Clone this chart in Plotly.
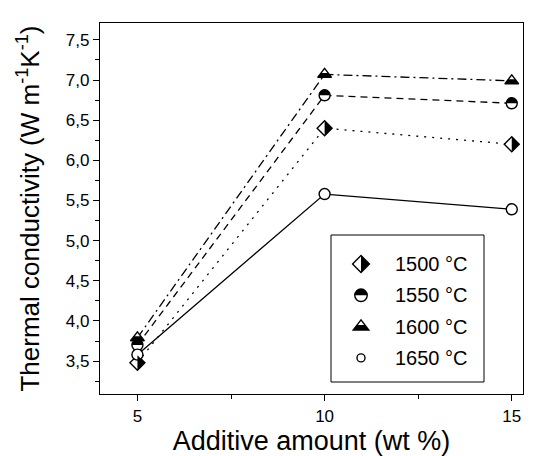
import plotly.graph_objects as go

additive = [5, 10, 15]
temps = ["1500 °C", "1550 °C", "1600 °C", "1650 °C"]
k_1500 = [3.48, 6.40, 6.20]
k_1550 = [3.70, 6.81, 6.71]
k_1600 = [3.79, 7.07, 6.99]
k_1650 = [3.58, 5.58, 5.39]
series = [k_1500, k_1550, k_1600, k_1650]

dashes = ["2px,6px", "7px,5px", "9px,4px,2px,4px", "solid"]
symbols = ["diamond", "circle", "triangle-up", "circle"]
sizes = [11.5, 11, 12, 11]
halves = ["right", "top", "bottom", None]

# plot geometry (pixels)
W, H = 541, 456
ML, MR, MT, MB = 92, 26, 15, 70
PW, PH = W - ML - MR, H - MT - MB


def px2paper(px, py):
    return (px - ML) / PW, (H - MB - py) / PH


K = 0.5523


def outline_path(sym, s):
    r = s / 2
    if sym == "diamond":
        d = 1.3 * r
        return f"M{d},0 L0,{d} L{-d},0 L0,{-d} Z"
    if sym == "triangle-up":
        rt = r * 2 / 3 ** 0.5
        return f"M{-rt},{-r/2} L{rt},{-r/2} L0,{r} Z"
    return (f"M{-r},0 C{-r},{K*r} {-K*r},{r} 0,{r} C{K*r},{r} {r},{K*r} {r},0 "
            f"C{r},{-K*r} {K*r},{-r} 0,{-r} C{-K*r},{-r} {-r},{-K*r} {-r},0 Z")


def half_path(sym, s):
    r = s / 2
    if sym == "diamond":
        d = 1.3 * r
        return f"M0,{d} L{d},0 L0,{-d} Z"
    if sym == "triangle-up":
        rt = r * 2 / 3 ** 0.5
        return f"M{-rt},{-r/2} L{rt},{-r/2} L{rt/2},{r/4} L{-rt/2},{r/4} Z"
    return f"M{-r},0 C{-r},{K*r} {-K*r},{r} 0,{r} C{K*r},{r} {r},{K*r} {r},0 Z"


fig = go.Figure()
for i, ys in enumerate(series):
    fig.add_trace(go.Scatter(x=additive, y=ys, mode="lines", showlegend=False,
                             line=dict(color="black", width=1.3, dash=dashes[i])))
for i, ys in enumerate(series):
    fig.add_trace(go.Scatter(x=additive, y=ys, mode="markers", name=temps[i],
                             showlegend=False,
                             marker=dict(symbol=symbols[i], size=sizes[i], color="white",
                                         line=dict(color="black", width=1.4))))

shapes = []
for i, ys in enumerate(series):
    if halves[i] is None:
        continue
    for xv, yv in zip(additive, ys):
        shapes.append(dict(type="path", xref="x", yref="y", xsizemode="pixel",
                           ysizemode="pixel", xanchor=xv, yanchor=yv,
                           path=half_path(symbols[i], sizes[i]),
                           fillcolor="black", line=dict(width=0), layer="above"))

# legend box
bx0, by0 = px2paper(323, 374)
bx1, by1 = px2paper(476, 227)
shapes.append(dict(type="rect", xref="paper", yref="paper", x0=bx0, y0=by0, x1=bx1, y1=by1,
                   line=dict(color="black", width=1), fillcolor="white", layer="above"))
leg_sizes = [13, 12.5, 13.5, 8]
annotations = []
for i, name in enumerate(temps):
    cy = 256 + 31.3 * i
    sx, sy = px2paper(353, cy)
    shapes.append(dict(type="path", xref="paper", yref="paper", xsizemode="pixel",
                       ysizemode="pixel", xanchor=sx, yanchor=sy,
                       path=outline_path(symbols[i], leg_sizes[i]),
                       fillcolor="white", line=dict(color="black", width=1.4), layer="above"))
    if halves[i] is not None:
        shapes.append(dict(type="path", xref="paper", yref="paper", xsizemode="pixel",
                           ysizemode="pixel", xanchor=sx, yanchor=sy,
                           path=half_path(symbols[i], leg_sizes[i]),
                           fillcolor="black", line=dict(width=0), layer="above"))
    tx, ty = px2paper(385, cy)
    annotations.append(dict(xref="paper", yref="paper", x=tx, y=ty, xanchor="left",
                            yanchor="middle", text=name, showarrow=False,
                            font=dict(size=20, color="black")))

fig.update_layout(
    width=W, height=H,
    margin=dict(l=ML, r=MR, t=MT, b=MB),
    paper_bgcolor="white", plot_bgcolor="white",
    separators=",.",
    font=dict(family="Liberation Sans, Arial, sans-serif", color="black", size=17),
    showlegend=False,
    shapes=shapes,
    annotations=annotations,
)
fig.update_xaxes(range=[4.0, 15.3], tickvals=[5, 10, 15], ticks="outside", ticklen=6,
                 tickcolor="black", tickwidth=1.2, automargin=False,
                 showline=True, linecolor="black", linewidth=1.4, mirror=True,
                 showgrid=False, zeroline=False,
                 minor=dict(dtick=2.5, tick0=5, ticks="outside", ticklen=3.5, tickcolor="black"),
                 title=dict(text="Additive amount (wt %)", font=dict(size=27), standoff=1),
                 tickfont=dict(size=17))
fig.update_yaxes(range=[3.09, 7.71], dtick=0.5, tick0=3.5, tickformat=".1f",
                 ticks="outside", ticklen=6, tickcolor="black", tickwidth=1.2,
                 automargin=False,
                 showline=True, linecolor="black", linewidth=1.4, mirror=True,
                 showgrid=False, zeroline=False,
                 minor=dict(dtick=0.25, tick0=3.5, ticks="outside", ticklen=3.5, tickcolor="black"),
                 title=dict(text="Thermal conductivity (W m<sup>-1</sup>K<sup>-1</sup>)",
                            font=dict(size=26), standoff=18),
                 tickfont=dict(size=17))

fig.write_html("out.html")
